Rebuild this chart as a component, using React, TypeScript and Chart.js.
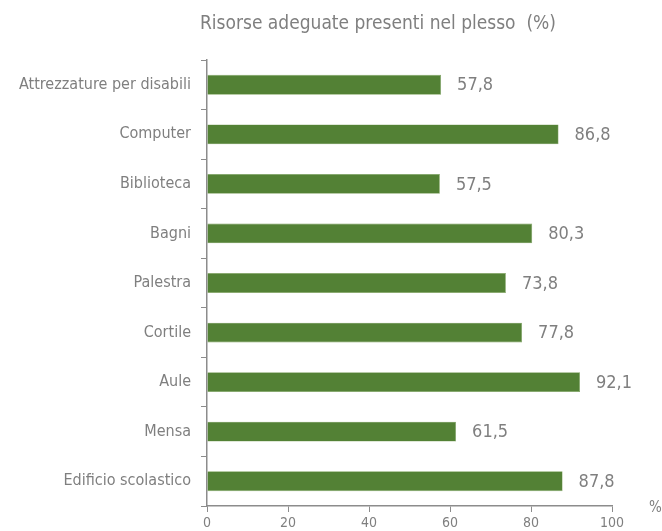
import React, { useEffect, useRef } from "react";
import { Chart, registerables } from "chart.js";

Chart.register(...registerables);

const categories = [
  "Attrezzature per disabili",
  "Computer",
  "Biblioteca",
  "Bagni",
  "Palestra",
  "Cortile",
  "Aule",
  "Mensa",
  "Edificio scolastico",
];
const values = [57.8, 86.8, 57.5, 80.3, 73.8, 77.8, 92.1, 61.5, 87.8];
const xTicks = [0, 20, 40, 60, 80, 100];
const titleText = "Risorse adeguate presenti nel plesso  (%)";
const unitText = "%";

const FONT = "'Liberation Sans Narrow', 'DejaVu Sans Condensed', 'Liberation Sans', sans-serif";
const GRAY = "#7f7f7f";
const AXIS = "#8c8c8c";
const BAR = "#538135";

const extrasPlugin = {
  id: "extras",
  afterDatasetsDraw(chart: any) {
    const ctx = chart.ctx;
    const meta = chart.getDatasetMeta(0);
    ctx.save();
    ctx.fillStyle = GRAY;
    ctx.font = `18px ${FONT}`;
    ctx.textAlign = "left";
    ctx.textBaseline = "middle";
    meta.data.forEach((el: any, i: number) => {
      const txt = values[i].toFixed(1).replace(".", ",");
      ctx.fillText(txt, el.x + 16, el.y + 1);
    });
    // title
    ctx.font = `19px ${FONT}`;
    ctx.textAlign = "center";
    ctx.fillText(titleText, 378, 24);
    // unit
    ctx.font = `15px ${FONT}`;
    ctx.textAlign = "left";
    ctx.fillText(unitText, 649, 508);
    ctx.restore();
  },
};

export default function App() {
  const ref = useRef<HTMLCanvasElement>(null);
  useEffect(() => {
    if (!ref.current) return;
    const chart = new Chart(ref.current, {
      type: "bar",
      data: {
        labels: categories,
        datasets: [
          {
            data: values,
            backgroundColor: BAR,
            borderColor: "#7fa35f",
            borderWidth: 0.6,
            categoryPercentage: 1,
            barPercentage: 0.4,
          },
        ],
      },
      options: {
        indexAxis: "y",
        responsive: false,
        animation: false,
        layout: { padding: { top: 60, right: 50, left: 0, bottom: 0 } },
        plugins: {
          legend: { display: false },
          tooltip: { enabled: false },
          title: { display: false },
        },
        scales: {
          x: {
            min: 0,
            max: 100,
            afterBuildTicks: (s: any) => {
              s.ticks = xTicks.map((v) => ({ value: v }));
            },
            afterFit: (s: any) => {
              s.height = 25;
            },
            border: { display: true, color: AXIS, width: 1.5 },
            grid: {
              display: true,
              drawOnChartArea: false,
              drawTicks: true,
              tickLength: 6,
              color: AXIS,
            },
            ticks: {
              color: GRAY,
              font: { family: FONT, size: 14 },
              padding: 3,
            },
          },
          y: {
            afterFit: (s: any) => {
              s.width = 207;
            },
            border: { display: true, color: AXIS, width: 1.5 },
            grid: {
              display: true,
              offset: true,
              drawOnChartArea: false,
              drawTicks: true,
              tickLength: 6,
              color: AXIS,
            },
            ticks: {
              color: GRAY,
              font: { family: FONT, size: 16 },
              padding: 10,
            },
          },
        },
      },
      plugins: [extrasPlugin],
    } as any);
    return () => chart.destroy();
  }, []);
  return (
    <div style={{ position: "absolute", left: 0, top: 0, width: 662, height: 531, background: "#fff" }}>
      <canvas ref={ref} width={662} height={531} />
    </div>
  );
}
